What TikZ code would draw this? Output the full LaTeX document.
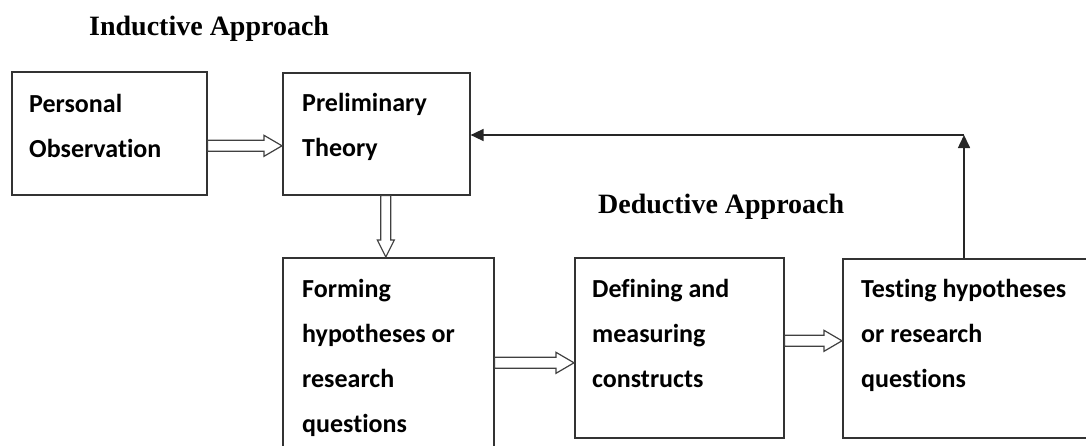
\documentclass[tikz,border=0pt]{standalone}
\usepackage{fontspec}
\setmainfont{Liberation Serif}
\newfontfamily\calibfont{Carlito}[RawFeature={-liga,-clig}]
\usetikzlibrary{arrows.meta,calc}

% hollow block arrow pointing right, drawn at the height of its start point
\newcommand\harrow[2]{%
  \draw[blockarrow] let \p1=(#1), \p2=(#2) in
    (\x1,\y1+5.5pt) -- (\x2-18pt,\y1+5.5pt) -- (\x2-18pt,\y1+10.5pt) -- (\x2,\y1)
    -- (\x2-18pt,\y1-10.5pt) -- (\x2-18pt,\y1-5.5pt) -- (\x1,\y1-5.5pt) -- cycle;}
% hollow block arrow pointing down
\newcommand\varrow[2]{%
  \draw[blockarrow] let \p1=(#1), \p2=(#2) in
    (\x1-5pt,\y1) -- (\x1-5pt,\y2+17pt) -- (\x1-8.5pt,\y2+17pt) -- (\x1,\y2)
    -- (\x1+8.5pt,\y2+17pt) -- (\x1+5pt,\y2+17pt) -- (\x1+5pt,\y1) -- cycle;}

\begin{document}
\begin{tikzpicture}[x=1pt,y=-1pt,
  box/.style={draw=black!80,line width=1.6pt,fill=white,anchor=north west,inner sep=0pt},
  % labels are placed by the baseline of their last line
  lbl/.style={anchor=base west,align=left,inner sep=0pt,
    font=\calibfont\bfseries\fontsize{26}{45}\selectfont},
  heading/.style={anchor=base west,inner sep=0pt,font=\bfseries\fontsize{28}{30}\selectfont},
  blockarrow/.style={draw=black!75,line width=1.2pt,fill=white,line join=miter},
  feedback/.style={draw=black!85,line width=1.6pt,-{Triangle[length=13pt,width=12pt]}}]
\useasboundingbox (0,0) rectangle (1086,445);
\clip (0,0) rectangle (1086,445);

% headings
\node[heading] (ind) at (89,35) {Inductive Approach};
\node[heading] (ded) at (598,213) {Deductive Approach};

% boxes
\node[box,minimum width=195pt,minimum height=123pt] (obs) at (11,71) {};
\node[box,minimum width=187pt,minimum height=122pt] (pre) at (282,72) {};
\node[box,minimum width=211pt,minimum height=210pt] (form) at (282,257) {};
\node[box,minimum width=209pt,minimum height=180pt] (def) at (574,257) {};
\node[box,minimum width=260pt,minimum height=179pt] (test) at (842,258) {};

% box texts
\node[lbl] (obsT) at (29,157) {Personal\\Observation};
\node[lbl] (preT) at (302,156) {Preliminary\\Theory};
\node[lbl] (formT) at (302,432) {Forming\\hypotheses or\\research\\questions};
\node[lbl] (defT) at (592,387) {Defining and\\measuring\\constructs};
\node[lbl] (testT) at (861,387) {Testing hypotheses\\or research\\questions};

% block arrows between the steps
\coordinate (a1) at ($(obs.east)+(0,12.5)$);
\harrow{a1}{a1 -| pre.west}
\coordinate (a2) at ($(pre.south)+(9.5,0)$);
\varrow{a2}{a2 |- form.north}
\coordinate (a3) at (form.east);
\harrow{a3}{a3 -| def.west}
\coordinate (a4) at ($(def.east)+(0,-7)$);
\harrow{a4}{a4 -| test.west}

% feedback loop back to the theory
\coordinate (fb) at (964,135);
\draw[feedback] (test.north -| fb) -- (fb);
\draw[feedback] (fb) -- (fb -| pre.east);
\end{tikzpicture}
\end{document}
